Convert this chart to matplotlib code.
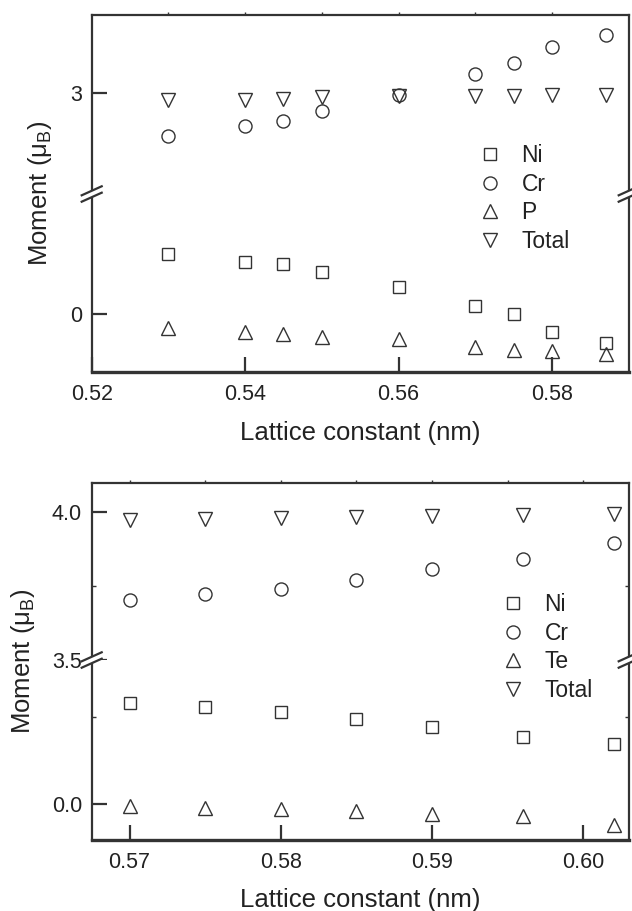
import matplotlib
matplotlib.use('Agg')
import matplotlib.pyplot as plt
from matplotlib.lines import Line2D
from matplotlib.patches import Polygon

plt.rcParams['font.family'] = ['Liberation Sans', 'DejaVu Sans']
plt.rcParams['mathtext.fontset'] = 'custom'
plt.rcParams['mathtext.rm'] = 'Liberation Sans'
plt.rcParams['mathtext.it'] = 'Liberation Sans:italic'

# ---- data: upper figure (Ni, Cr, P) ----
lat1 = [0.53, 0.54, 0.545, 0.55, 0.56, 0.57, 0.575, 0.58, 0.587]
ni1 = [0.240, 0.207, 0.199, 0.167, 0.107, 0.033, -0.001, -0.071, -0.115]
cr1 = [2.827, 2.869, 2.887, 2.927, 2.991, 3.077, 3.119, 3.184, 3.232]
p1 = [-0.055, -0.071, -0.080, -0.091, -0.101, -0.131, -0.144, -0.148, -0.160]
tot1 = [2.973, 2.973, 2.977, 2.983, 2.987, 2.987, 2.987, 2.991, 2.993]
labels1 = ['Ni', 'Cr', 'P', 'Total']

# ---- data: lower figure (Ni, Cr, Te) ----
lat2 = [0.57, 0.575, 0.58, 0.585, 0.59, 0.596, 0.602]
ni2 = [0.288, 0.277, 0.264, 0.243, 0.220, 0.192, 0.173]
cr2 = [3.702, 3.721, 3.739, 3.771, 3.806, 3.842, 3.893]
te2 = [-0.007, -0.010, -0.013, -0.021, -0.028, -0.033, -0.061]
tot2 = [3.972, 3.975, 3.978, 3.981, 3.985, 3.988, 3.994]
labels2 = ['Ni', 'Cr', 'Te', 'Total']

W, H = 632, 911
INK = '#222222'
EDGE = '#333333'
fig = plt.figure(figsize=(W / 100, H / 100), dpi=100)

markers = ['s', 'o', '^', 'v']
msizes = [8.4, 9.4, 10.2, 10.2]


def box(left, top, right, bottom):
    # pixel box (y down) -> figure fraction rect
    return [left / W, 1 - bottom / H, (right - left) / W, (bottom - top) / H]


def break_mark(xp, yp):
    # the little "//" on a spine, pixel coords with y down
    y = H - yp
    dx, dy, gap = 10, 4.5, 3.2
    poly = [(xp - dx, y - dy - gap), (xp + dx, y + dy - gap),
            (xp + dx, y + dy + gap), (xp - dx, y - dy + gap)]
    fig.patches.append(Polygon([(a / W, b / H) for a, b in poly], closed=True,
                               transform=fig.transFigure, fc='white', ec='none', zorder=10))
    for s in (-gap, gap):
        fig.lines.append(Line2D([(xp - dx) / W, (xp + dx) / W],
                                [(y - dy + s) / H, (y + dy + s) / H],
                                transform=fig.transFigure, color=EDGE, lw=1.6, zorder=11))


def panel(top, brk, bot, lat, series, labels, xlim, xticks, xlabels, minor_x,
          hi_lim, hi_ticks, hi_labels, hi_minor, lo_lim, lo_ticks, lo_labels, lo_minor,
          leg_xy, ylab_x, xlab_y):
    left, right = 91.7, 628.7
    ax_hi = fig.add_axes(box(left, top, right, brk))
    ax_lo = fig.add_axes(box(left, brk, right, bot))
    for ax in (ax_hi, ax_lo):
        for i, vals in enumerate(series):
            ax.plot(lat, vals, linestyle='none', marker=markers[i], ms=msizes[i],
                    mfc='none', mec=EDGE, mew=1.0, label=labels[i])
        ax.set_xlim(*xlim)
        for sp in ax.spines.values():
            sp.set_linewidth(1.6)
            sp.set_color(EDGE)
        ax.tick_params(axis='y', which='major', direction='in', length=11, width=1.6,
                       color=EDGE, labelsize=15.5, labelcolor=INK, pad=7, right=False)
        ax.tick_params(axis='y', which='minor', direction='in', length=3, width=1.0,
                       color=EDGE, right=True)
    ax_hi.spines['bottom'].set_visible(False)
    ax_lo.spines['top'].set_visible(False)
    ax_lo.spines['bottom'].set_linewidth(2.4)

    ax_hi.set_ylim(*hi_lim)
    ax_hi.set_yticks(hi_ticks)
    ax_hi.set_yticklabels(hi_labels)
    ax_hi.set_yticks(hi_minor, minor=True)
    ax_lo.set_ylim(*lo_lim)
    ax_lo.set_yticks(lo_ticks)
    ax_lo.set_yticklabels(lo_labels)
    ax_lo.set_yticks(lo_minor, minor=True)

    ax_hi.set_xticks(minor_x)
    ax_hi.tick_params(axis='x', direction='out', length=2.5, width=1.0, color=EDGE,
                      top=True, bottom=False, labelbottom=False)
    ax_lo.set_xticks(xticks)
    ax_lo.set_xticklabels(xlabels)
    ax_lo.tick_params(axis='x', direction='in', length=11, width=1.6, color=EDGE,
                      labelsize=15.5, labelcolor=INK, pad=9)

    break_mark(left, brk)
    break_mark(right, brk)

    h_hi, l_hi = ax_hi.get_legend_handles_labels()
    fig.legend(h_hi, l_hi, loc='upper left',
               bbox_to_anchor=(leg_xy[0] / W, 1 - leg_xy[1] / H),
               frameon=False, fontsize=16.5, handlelength=1.0, handletextpad=0.85,
               labelspacing=0.25, borderaxespad=0, borderpad=0, numpoints=1,
               labelcolor=INK)

    fig.text(ylab_x / W, 1 - (top + bot) / 2 / H, r'Moment ($\mathregular{\mu_B}$)',
             rotation=90, ha='center', va='center', fontsize=18.5, color=INK)
    fig.text((left + right) / 2 / W, 1 - xlab_y / H, 'Lattice constant (nm)',
             ha='center', va='center', fontsize=18.5, color=INK)


panel(15, 194, 372, lat1, [ni1, cr1, p1, tot1], labels1,
      (0.52, 0.59), [0.52, 0.54, 0.56, 0.58], ['0.52', '0.54', '0.56', '0.58'],
      [0.53, 0.54, 0.55, 0.56, 0.57, 0.58],
      (2.597, 3.313), [3], ['3'], [],
      (-0.232, 0.48), [0], ['0'], [],
      (479, 144), 40, 433)

panel(482.7, 660, 840, lat2, [ni2, cr2, te2, tot2], labels2,
      (0.5675, 0.603), [0.57, 0.58, 0.59, 0.60], ['0.57', '0.58', '0.59', '0.60'],
      [0.57, 0.575, 0.58, 0.585, 0.59, 0.595, 0.60],
      (3.5, 4.098), [3.5, 4.0], ['3.5', '4.0'], [3.75],
      (-0.103, 0.4126), [0.0], ['0.0'], [0.25],
      (502, 593), 23, 900)

fig.savefig('out.png', dpi=100)
